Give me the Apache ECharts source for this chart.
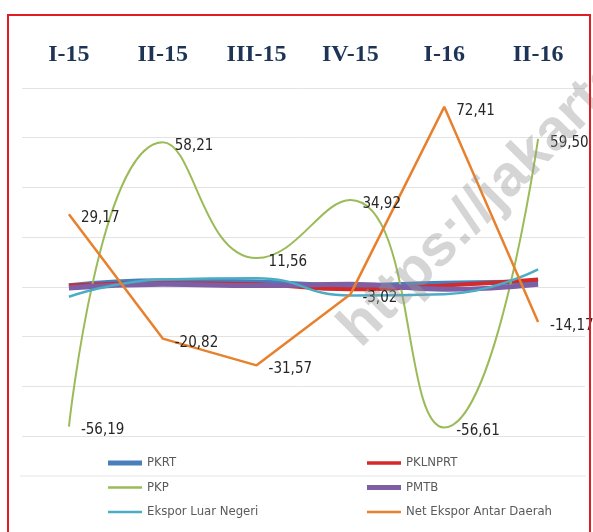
<!DOCTYPE html>
<html>
<head>
<meta charset="utf-8">
<script src="https://cdn.jsdelivr.net/npm/echarts@6/dist/echarts.min.js"></script>
<style>
  html, body { margin: 0; padding: 0; background: #ffffff; }
  #chart { width: 593px; height: 532px; }
</style>
</head>
<body>
<div id="chart"></div>
<script>
// Quarterly growth of GDP expenditure components (%)
const quarters = ['I-15', 'II-15', 'III-15', 'IV-15', 'I-16', 'II-16'];
const pkrt = [0.5, 2.5, 2.0, 0.5, 1.5, 2.0];
const pklnprt = [0.5, 1.5, 1.0, -1.0, 0.5, 3.0];
const pkp = [-56.19, 58.21, 11.56, 34.92, -56.61, 59.50];
const pmtb = [-0.5, 1.0, 0.5, 1.0, -1.0, 1.0];
const eksporLuarNegeri = [-4.0, 3.0, 3.5, -3.5, -3.0, 7.0];
const netEksporAntarDaerah = [29.17, -20.82, -31.57, -3.02, 72.41, -14.17];

const narrow = "'DejaVu Sans Condensed', 'Liberation Sans Narrow', sans-serif";

const valueLabel = {
  show: true,
  position: 'right',
  distance: 12,
  offset: [0, 4],
  color: '#262626',
  fontFamily: narrow,
  fontSize: 15,
  formatter: p => p.value.toFixed(2).replace('.', ',')
};

function lineSeries(name, data, color, width, opts) {
  return Object.assign({
    name: name,
    type: 'line',
    data: data,
    color: color,
    smooth: true,
    symbol: 'circle',
    symbolSize: 0,
    showSymbol: true,
    lineStyle: { color: color, width: width },
    emphasis: { disabled: true }
  }, opts || {});
}

const legendText = { color: '#5A5A5A', fontFamily: narrow, fontSize: 13, lineHeight: 16 };

const chart = echarts.init(document.getElementById('chart'), null, { renderer: 'canvas' });

chart.setOption({
  backgroundColor: '#ffffff',
  animation: false,
  grid: { left: 22, right: 8, top: 88, bottom: 96 },
  xAxis: {
    type: 'category',
    position: 'top',
    data: quarters,
    boundaryGap: true,
    axisLine: { show: false },
    axisTick: { show: false },
    axisLabel: {
      margin: 21,
      color: '#1D3457',
      fontFamily: "'Liberation Serif', 'DejaVu Serif', serif",
      fontWeight: 'bold',
      fontSize: 24
    }
  },
  yAxis: {
    type: 'value',
    min: -60,
    max: 80,
    interval: 20,
    axisLabel: { show: false },
    axisLine: { show: false },
    axisTick: { show: false },
    splitLine: { lineStyle: { color: '#E3E3E3', width: 1 } }
  },
  legend: [
    {
      orient: 'vertical',
      left: 108,
      top: 455,
      padding: 0,
      itemWidth: 34,
      itemHeight: 16,
      itemGap: 8.5,
      textStyle: legendText,
      data: [
        { name: 'PKRT', icon: 'path://M0,0H34V5H0Z' },
        { name: 'PKP', icon: 'path://M0,0H34V2.5H0Z' },
        { name: 'Ekspor Luar Negeri', icon: 'path://M0,0H34V2.5H0Z' }
      ]
    },
    {
      orient: 'vertical',
      left: 367,
      top: 455,
      padding: 0,
      itemWidth: 34,
      itemHeight: 16,
      itemGap: 8.5,
      textStyle: legendText,
      data: [
        { name: 'PKLNPRT', icon: 'path://M0,0H34V3.5H0Z' },
        { name: 'PMTB', icon: 'path://M0,0H34V5H0Z' },
        { name: 'Net Ekspor Antar Daerah', icon: 'path://M0,0H34V2.5H0Z' }
      ]
    }
  ],
  series: [
    lineSeries('PKRT', pkrt, '#4A7EBB', 5),
    lineSeries('PKLNPRT', pklnprt, '#D42A2A', 4),
    lineSeries('PKP', pkp, '#9BBB59', 2, { label: valueLabel }),
    lineSeries('PMTB', pmtb, '#7E5FA6', 5),
    lineSeries('Ekspor Luar Negeri', eksporLuarNegeri, '#4BACC6', 2.5),
    lineSeries('Net Ekspor Antar Daerah', netEksporAntarDaerah, '#E8812E', 2.5,
      { smooth: false, label: valueLabel })
  ],
  graphic: [
    {
      type: 'line',
      silent: true,
      shape: { x1: 20, y1: 476, x2: 586, y2: 476 },
      style: { stroke: '#E6E6E6', lineWidth: 1 }
    },
    {
      type: 'text',
      silent: true,
      x: 370,
      y: 358,
      rotation: Math.PI / 4,
      style: {
        text: 'https://jakarta.bps.go.id',
        font: "bold 58px 'Liberation Sans', Arial, sans-serif",
        fill: 'rgba(150,150,150,0.4)',
        textAlign: 'left',
        textVerticalAlign: 'bottom'
      },
      z: 100
    },
    {
      type: 'rect',
      silent: true,
      shape: { x: 8, y: 15, width: 582, height: 530 },
      style: { fill: 'none', stroke: '#E31B23', lineWidth: 2 },
      z: 101
    }
  ]
});
</script>
</body>
</html>
